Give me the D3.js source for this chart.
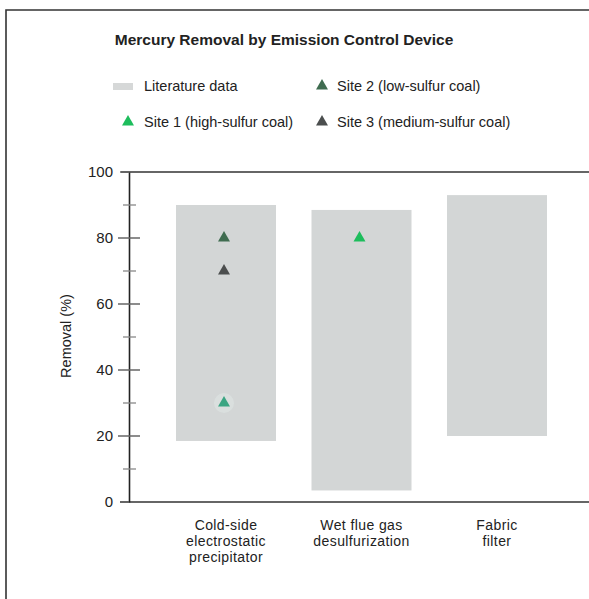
<!DOCTYPE html>
<html>
<head>
<meta charset="utf-8">
<script src="https://cdn.jsdelivr.net/npm/d3@7"></script>
<style>
html,body{margin:0;padding:0;background:#fff;}
svg{display:block;font-family:"Liberation Sans",Arial,Helvetica,sans-serif;}
</style>
</head>
<body>
<svg id="chart" width="589" height="599"></svg>
<script>
// ---- data ----
const categories = ["Cold-side electrostatic precipitator", "Wet flue gas desulfurization", "Fabric filter"];
const categoryLabelLines = [["Cold-side", "electrostatic", "precipitator"], ["Wet flue gas", "desulfurization"], ["Fabric", "filter"]];
const literatureLow = [18.5, 3.5, 20];
const literatureHigh = [90, 88.5, 93];
const site1Values = [30, 80, null];   // high-sulfur coal
const site2Values = [80, null, null]; // low-sulfur coal
const site3Values = [70, null, null]; // medium-sulfur coal
const yMajorTicks = [0, 20, 40, 60, 80, 100];
const yMinorTicks = [10, 30, 50, 70, 90];
const legendLabels = ["Literature data", "Site 1 (high-sulfur coal)", "Site 2 (low-sulfur coal)", "Site 3 (medium-sulfur coal)"];

// ---- styles ----
const colBar = "#d3d6d6";
const colSite1 = "#1dbd5c";
const colSite2 = "#3f6c50";
const colSite3 = "#4b4e4e";
const colText = "#222";

const svg = d3.select("#chart");
svg.append("rect").attr("width", 589).attr("height", 599).attr("fill", "#fff");

// outer frame
svg.append("path").attr("d", "M6,599V10H589").attr("fill", "none").attr("stroke", "#333").attr("stroke-width", 1.6);

// title
svg.append("text").attr("x", 284).attr("y", 45).attr("text-anchor", "middle")
  .attr("font-size", "15.5px").attr("font-weight", "bold").attr("fill", colText)
  .text("Mercury Removal by Emission Control Device");

// scales
const y = d3.scaleLinear().domain([0, 100]).range([502, 172]);
const x = d3.scaleBand().domain(categories).range([140.5, 582.5]).paddingInner(0.262).paddingOuter(0.262);

const plotLeft = 129, plotRight = 589;

// bars (literature ranges)
svg.append("g").selectAll("rect").data(categories).join("rect")
  .attr("x", d => x(d))
  .attr("width", x.bandwidth())
  .attr("y", (d, i) => y(literatureHigh[i]))
  .attr("height", (d, i) => y(literatureLow[i]) - y(literatureHigh[i]))
  .attr("fill", colBar);

// frame lines of plot
svg.append("line").attr("x1", 121).attr("x2", plotRight).attr("y1", y(100)).attr("y2", y(100)).attr("stroke", "#333").attr("stroke-width", 1.6);
svg.append("line").attr("x1", 120).attr("x2", plotRight).attr("y1", y(0)).attr("y2", y(0)).attr("stroke", "#333").attr("stroke-width", 1.6);

// y axis
const yAxis = d3.axisLeft(y).tickValues(yMajorTicks).tickSize(0).tickPadding(16).tickFormat(d3.format("d"));
const gy = svg.append("g").attr("transform", `translate(${plotLeft},0)`).call(yAxis);
gy.select(".domain").attr("stroke", "#222").attr("stroke-width", 1.6);
gy.selectAll("text").attr("font-size", "15px").attr("fill", colText).attr("font-family", "Liberation Sans, Arial, sans-serif");

// major ticks (crossing axis)
svg.append("g").selectAll("line").data(yMajorTicks).join("line")
  .attr("x1", d => (d === 0 || d === 100) ? 120 : 118)
  .attr("x2", d => (d === 0 || d === 100) ? 129 : 140)
  .attr("y1", d => y(d)).attr("y2", d => y(d))
  .attr("stroke", "#666").attr("stroke-width", 1.5);
// minor ticks
svg.append("g").selectAll("line").data(yMinorTicks).join("line")
  .attr("x1", 123).attr("x2", 136)
  .attr("y1", d => y(d)).attr("y2", d => y(d))
  .attr("stroke", "#888").attr("stroke-width", 1.3);

// y label
svg.append("text").attr("transform", "translate(71,336) rotate(-90)")
  .attr("text-anchor", "middle").attr("font-size", "14.5px").attr("fill", colText)
  .text("Removal (%)");

// x labels
const xl = svg.append("g");
categories.forEach((c, i) => {
  const t = xl.append("text").attr("text-anchor", "middle").attr("font-size", "14px")
    .attr("letter-spacing", "0.4px").attr("fill", colText);
  categoryLabelLines[i].forEach((line, j) => {
    t.append("tspan").attr("x", x(c) + x.bandwidth() / 2).attr("y", 530 + j * 16).text(line);
  });
});

// markers
const tri = d3.symbol().type(d3.symbolTriangle).size(62);
function drawSite(values, color) {
  const pts = categories.map((c, i) => ({c, v: values[i]})).filter(p => p.v !== null);
  svg.append("g").selectAll("path").data(pts).join("path")
    .attr("d", tri)
    .attr("transform", p => `translate(${x(p.c) + x.bandwidth() / 2 - 2},${y(p.v)})`)
    .attr("fill", color);
}
drawSite(site2Values, colSite2);
drawSite(site3Values, colSite3);
// site 1 markers; the low one appears teal with a soft halo
const s1pts = categories.map((c, i) => ({c, v: site1Values[i]})).filter(p => p.v !== null);
svg.append("g").selectAll("circle").data(s1pts.filter(p => p.v < 50)).join("circle")
  .attr("cx", p => x(p.c) + x.bandwidth() / 2 - 2).attr("cy", p => y(p.v))
  .attr("r", 10).attr("fill", "#e3ebe8").attr("opacity", 0.45);
svg.append("g").selectAll("path").data(s1pts).join("path")
  .attr("d", tri)
  .attr("transform", p => `translate(${x(p.c) + x.bandwidth() / 2 - 2},${y(p.v)})`)
  .attr("fill", p => p.v < 50 ? "#3aa582" : colSite1);

// legend
const lg = svg.append("g").attr("font-size", "14.5px").attr("fill", colText);
lg.append("rect").attr("x", 113).attr("y", 83).attr("width", 20).attr("height", 7).attr("fill", "#d6d8d8");
lg.append("text").attr("x", 144).attr("y", 91).attr("fill", colText).text(legendLabels[0]);
lg.append("path").attr("d", tri).attr("transform", "translate(128,122)").attr("fill", colSite1);
lg.append("text").attr("x", 144).attr("y", 127).attr("fill", colText).text(legendLabels[1]);
lg.append("path").attr("d", tri).attr("transform", "translate(322,86)").attr("fill", colSite2);
lg.append("text").attr("x", 337).attr("y", 91).attr("fill", colText).text(legendLabels[2]);
lg.append("path").attr("d", tri).attr("transform", "translate(322,122)").attr("fill", colSite3);
lg.append("text").attr("x", 337).attr("y", 127).attr("fill", colText).text(legendLabels[3]);
</script>
</body>
</html>
